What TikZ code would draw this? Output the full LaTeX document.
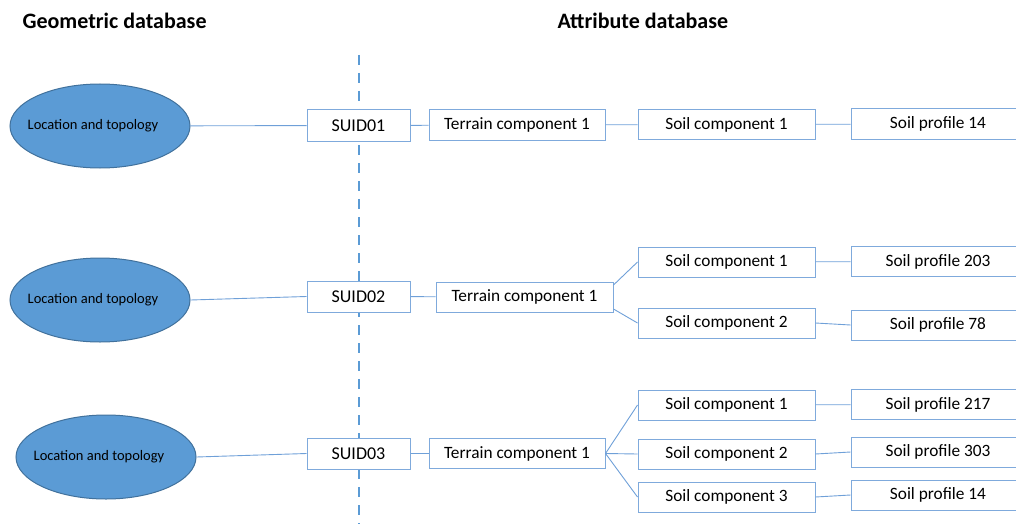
\documentclass[tikz,border=0pt]{standalone}
\usepackage{fontspec}
\setmainfont{Carlito}
\usetikzlibrary{shapes.geometric,calc}
\definecolor{boxline}{HTML}{7FAADC}
\definecolor{conn}{HTML}{6FA0D8}
\definecolor{ellfill}{HTML}{5B9BD5}
\definecolor{elldraw}{HTML}{41719C}
\definecolor{dashc}{HTML}{5B9BD5}
\tikzset{
  ubox/.style={draw=boxline, line width=1pt, fill=white, minimum height=30pt, inner sep=0pt, font=\fontsize{17.3}{20}\selectfont},
  suidbox/.style={ubox, minimum width=103pt, minimum height=31pt, font=\fontsize{18}{20}\selectfont},
  terrbox/.style={ubox, minimum width=176pt},
  soilbox/.style={ubox, minimum width=177pt},
  profbox/.style={ubox, minimum width=174pt},
  locell/.style={ellipse, draw=elldraw, line width=1pt, fill=ellfill, minimum width=180pt, minimum height=84pt, inner sep=0pt, font=\fontsize{14.5}{16}\selectfont},
  conline/.style={draw=conn, line width=0.9pt},
  title/.style={font=\fontsize{22}{24}\selectfont\bfseries, anchor=west}
}
\begin{document}
\begin{tikzpicture}[x=1pt,y=-1pt]
\clip (0,0) rectangle (1016,524);
\useasboundingbox (0,0) rectangle (1016,524);
\node[title] (tg) at (19,21) {Geometric database};
\node[title] (ta) at (554,21) {Attribute database};
\coordinate (dtop) at (359,55);
\coordinate (dbot) at (359,524);
\draw[dashc, line width=2pt, dash pattern=on 10pt off 8pt] (dtop) -- (dbot);

% row 1
\node[locell] (e1) at (100,126) {\hspace*{-14pt}Location and topology};
\node[suidbox] (u1) at (358.5,125.5) {SUID01};
\node[terrbox] (t1) at (517,125) {Terrain component 1};
\node[soilbox] (s11) at (726.5,124.5) {Soil component 1};
\node[profbox] (p11) at (938,124) {Soil profile 14};
\draw[conline] (e1) -- (u1);
\draw[conline] (u1) -- (t1);
\draw[conline] (t1) -- (s11);
\draw[conline] (s11) -- (p11);

% row 2
\node[locell] (e2) at (100,300) {\hspace*{-14pt}Location and topology};
\node[suidbox] (u2) at (358.5,296.5) {SUID02};
\node[terrbox, minimum width=177pt] (t2) at (524.5,297) {Terrain component 1};
\node[soilbox] (s21) at (726.5,262) {Soil component 1};
\node[soilbox] (s22) at (726.5,323) {Soil component 2};
\node[profbox] (p21) at (938,261.5) {Soil profile 203};
\node[profbox] (p22) at (938,325) {Soil profile 78};
\draw[conline] (e2.east) -- (u2.west);
\draw[conline] (u2) -- (t2);
\draw[conline] ($(t2.east)+(0,-12)$) -- (s21.west);
\draw[conline] ($(t2.east)+(0,12)$) -- (s22.west);
\draw[conline] (s21) -- (p21);
\draw[conline] (s22.east) -- (p22.west);

% row 3
\node[locell] (e3) at (106,457) {\hspace*{-14pt}Location and topology};
\node[suidbox] (u3) at (358.5,453.5) {SUID03};
\node[terrbox] (t3) at (517,453.5) {Terrain component 1};
\node[soilbox] (s31) at (726.5,405) {Soil component 1};
\node[soilbox] (s32) at (726.5,454) {Soil component 2};
\node[soilbox] (s33) at (726.5,497) {Soil component 3};
\node[profbox] (p31) at (938,404.5) {Soil profile 217};
\node[profbox] (p32) at (938,452) {Soil profile 303};
\node[profbox] (p33) at (938,495) {Soil profile 14};
\draw[conline] (e3.east) -- (u3.west);
\draw[conline] (u3) -- (t3);
\draw[conline] (t3.east) -- (s31.west);
\draw[conline] (t3.east) -- (s32.west);
\draw[conline] (t3.east) -- (s33.west);
\draw[conline] (s31) -- (p31);
\draw[conline] (s32.east) -- (p32.west);
\draw[conline] (s33.east) -- (p33.west);
\end{tikzpicture}
\end{document}
